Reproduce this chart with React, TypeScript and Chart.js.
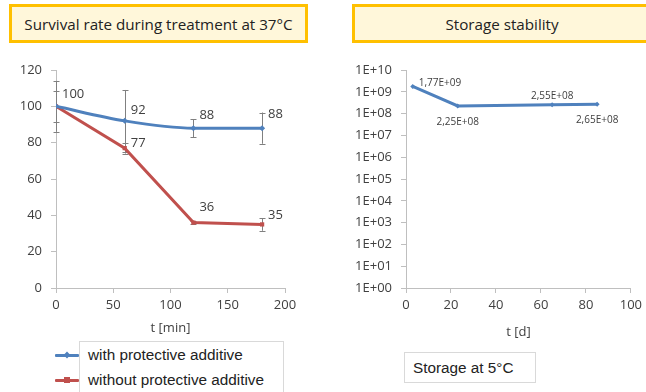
import React, { useEffect, useRef } from "react";
import { Chart, registerables } from "chart.js";

Chart.register(...registerables);

// ---------- data ----------
const timeMin = [0, 60, 120, 180];
const withAdditive = [100, 92, 88, 88];
const withAdditiveErr = [14, 17, 5, 8.6];
const withoutAdditive = [100, 77, 36, 35];
const withoutAdditiveErr = [8.5, 3, 1, 3.5];
const seriesNames = ["with protective additive", "without protective additive"];

const storageDays = [3, 23, 65, 85];
const storageCfu = [1.77e9, 2.25e8, 2.55e8, 2.65e8];
const logTicks = [1, 1e1, 1e2, 1e3, 1e4, 1e5, 1e6, 1e7, 1e8, 1e9, 1e10];

const leftTitle = "Survival rate during treatment at 37°C";
const rightTitle = "Storage stability";
const leftXTitle = "t [min]";
const rightXTitle = "t [d]";
const storageNote = "Storage at 5°C";

// ---------- styles ----------
const BLUE = "#4F81BD";
const RED = "#C0504D";
const AXIS = "#BFBFBF";
const TEXT = "#404040";
const TICK_FONT = { family: "Open Sans", size: 13 };

// label offsets (style only)
const leftLabelDy = [
  [-12, -11, -13, -14],
  [null, -5, -15, -9],
];
const rightLabelPos = ["right", "below", "above", "below"];

function fmtSci2(v: number): string {
  const e = Math.floor(Math.log10(v) + 1e-9);
  const m = v / Math.pow(10, e);
  return m.toFixed(2).replace(".", ",") + "E+" + String(e).padStart(2, "0");
}
function fmtSci0(v: number): string {
  const e = Math.round(Math.log10(v));
  return "1E+" + String(e).padStart(2, "0");
}

const errorBarPlugin = {
  id: "errorBars",
  beforeDatasetsDraw(chart: any) {
    const ctx = chart.ctx;
    const ys = chart.scales.y;
    chart.data.datasets.forEach((ds: any, di: number) => {
      if (!ds.errors) return;
      const meta = chart.getDatasetMeta(di);
      ctx.save();
      ctx.strokeStyle = "#808080";
      ctx.lineWidth = 1;
      meta.data.forEach((pt: any, i: number) => {
        const v = ds.data[i].y;
        const e = ds.errors[i];
        const y1 = ys.getPixelForValue(v + e);
        const y2 = ys.getPixelForValue(v - e);
        const x = Math.round(pt.x) + 0.5;
        ctx.beginPath();
        ctx.moveTo(x, y1);
        ctx.lineTo(x, y2);
        ctx.moveTo(x - 3, Math.round(y1) + 0.5);
        ctx.lineTo(x + 3, Math.round(y1) + 0.5);
        ctx.moveTo(x - 3, Math.round(y2) + 0.5);
        ctx.lineTo(x + 3, Math.round(y2) + 0.5);
        ctx.stroke();
      });
      ctx.restore();
    });
  },
};

const leftLabelPlugin = {
  id: "leftLabels",
  afterDatasetsDraw(chart: any) {
    const ctx = chart.ctx;
    ctx.save();
    ctx.font = "13px 'Open Sans'";
    ctx.fillStyle = TEXT;
    ctx.textAlign = "left";
    ctx.textBaseline = "middle";
    chart.data.datasets.forEach((ds: any, di: number) => {
      const meta = chart.getDatasetMeta(di);
      meta.data.forEach((pt: any, i: number) => {
        const dy = leftLabelDy[di][i];
        if (dy === null) return;
        ctx.fillText(String(Math.round(ds.data[i].y)), pt.x + 6, pt.y + dy);
      });
    });
    ctx.restore();
  },
};

const rightLabelPlugin = {
  id: "rightLabels",
  afterDatasetsDraw(chart: any) {
    const ctx = chart.ctx;
    ctx.save();
    ctx.font = "10px 'Open Sans'";
    ctx.fillStyle = TEXT;
    ctx.textBaseline = "middle";
    const ds = chart.data.datasets[0];
    const meta = chart.getDatasetMeta(0);
    meta.data.forEach((pt: any, i: number) => {
      const txt = fmtSci2(ds.data[i].y);
      const p = rightLabelPos[i];
      if (p === "right") {
        ctx.textAlign = "left";
        ctx.fillText(txt, pt.x + 6, pt.y - 3);
      } else if (p === "below") {
        ctx.textAlign = "center";
        ctx.fillText(txt, pt.x, pt.y + 16);
      } else {
        ctx.textAlign = "center";
        ctx.fillText(txt, pt.x, pt.y - 9);
      }
    });
    ctx.restore();
  },
};

function axisCommon() {
  return {
    border: { display: true, color: AXIS, width: 1 },
    grid: { display: true, drawOnChartArea: false, drawTicks: true, tickLength: 5, color: AXIS },
  };
}

function LeftChart() {
  const ref = useRef<HTMLCanvasElement>(null);
  useEffect(() => {
    const chart = new Chart(ref.current!, {
      type: "line",
      data: {
        datasets: [
          {
            label: seriesNames[0],
            data: timeMin.map((t, i) => ({ x: t, y: withAdditive[i] })),
            errors: withAdditiveErr,
            borderColor: BLUE,
            backgroundColor: BLUE,
            borderWidth: 3,
            tension: 0.4,
            cubicInterpolationMode: "monotone",
            pointStyle: "rectRot",
            pointRadius: 3,
            pointBorderWidth: 0,
          } as any,
          {
            label: seriesNames[1],
            data: timeMin.map((t, i) => ({ x: t, y: withoutAdditive[i] })),
            errors: withoutAdditiveErr,
            borderColor: RED,
            backgroundColor: RED,
            borderWidth: 3,
            tension: 0,
            pointStyle: "rect",
            pointRadius: 3,
            pointBorderWidth: 0,
          } as any,
        ],
      },
      options: {
        animation: false,
        responsive: false,
        maintainAspectRatio: false,
        layout: { padding: { left: 0, right: 35, top: 20, bottom: 0 } },
        plugins: { legend: { display: false }, tooltip: { enabled: false } },
        scales: {
          x: {
            type: "linear",
            min: 0,
            max: 200,
            ...axisCommon(),
            ticks: { stepSize: 50, color: TEXT, font: TICK_FONT, padding: 4, maxRotation: 0 },
            title: { display: true, text: leftXTitle, color: TEXT, font: TICK_FONT, padding: { top: 0, bottom: 4 } },
            afterFit: (s: any) => { s.height = 52; },
          },
          y: {
            type: "linear",
            min: 0,
            max: 120,
            ...axisCommon(),
            ticks: { stepSize: 20, color: TEXT, font: TICK_FONT, padding: 9 },
            afterFit: (s: any) => { s.width = 56; },
          },
        },
      } as any,
      plugins: [errorBarPlugin, leftLabelPlugin],
    });
    return () => chart.destroy();
  }, []);
  return (
    <canvas
      ref={ref}
      width={320}
      height={290}
      style={{ position: "absolute", left: 0, top: 50, width: 320, height: 290 }}
    />
  );
}

function RightChart() {
  const ref = useRef<HTMLCanvasElement>(null);
  useEffect(() => {
    const chart = new Chart(ref.current!, {
      type: "line",
      data: {
        datasets: [
          {
            label: "storage",
            data: storageDays.map((d, i) => ({ x: d, y: storageCfu[i] })),
            borderColor: BLUE,
            backgroundColor: BLUE,
            borderWidth: 3,
            tension: 0,
            pointStyle: "rectRot",
            pointRadius: 2.5,
            pointBorderWidth: 0,
          } as any,
        ],
      },
      options: {
        animation: false,
        responsive: false,
        maintainAspectRatio: false,
        layout: { padding: { left: 0, right: 14, top: 20, bottom: 0 } },
        plugins: { legend: { display: false }, tooltip: { enabled: false } },
        scales: {
          x: {
            type: "linear",
            min: 0,
            max: 100,
            ...axisCommon(),
            ticks: { stepSize: 20, color: TEXT, font: TICK_FONT, padding: 4, maxRotation: 0 },
            title: { display: true, text: rightXTitle, color: TEXT, font: TICK_FONT, padding: { top: 0, bottom: 0 } },
            afterFit: (s: any) => { s.height = 52; },
          },
          y: {
            type: "logarithmic",
            min: 1,
            max: 1e10,
            ...axisCommon(),
            afterBuildTicks: (s: any) => { s.ticks = logTicks.map((v) => ({ value: v })); },
            ticks: { color: TEXT, font: TICK_FONT, padding: 9, autoSkip: false, callback: (v: any) => fmtSci0(Number(v)) },
            afterFit: (s: any) => { s.width = 66; },
          },
        },
      } as any,
      plugins: [rightLabelPlugin],
    });
    return () => chart.destroy();
  }, []);
  return (
    <canvas
      ref={ref}
      width={306}
      height={290}
      style={{ position: "absolute", left: 340, top: 50, width: 306, height: 290 }}
    />
  );
}

const titleBox: React.CSSProperties = {
  position: "absolute",
  top: 4,
  height: 39,
  boxSizing: "border-box",
  border: "3px solid #FFC000",
  background: "#FFF7DA",
  display: "flex",
  alignItems: "center",
  justifyContent: "center",
  fontFamily: "'Open Sans'",
  fontSize: 15.2,
  color: "#222",
};

const legendText: React.CSSProperties = {
  position: "absolute",
  left: 88,
  fontFamily: "'Liberation Sans', Arial",
  fontSize: 15.3,
  color: "#222",
  whiteSpace: "nowrap",
  lineHeight: "18px",
};

function LegendSwatch({ color, top, square }: { color: string; top: number; square: boolean }) {
  return (
    <>
      <div style={{ position: "absolute", left: 55, top: top - 1.5, width: 24, height: 3, background: color, borderRadius: 1 }} />
      <div
        style={{
          position: "absolute",
          left: 64,
          top: top - 3,
          width: 6,
          height: 6,
          background: color,
          transform: square ? "none" : "rotate(45deg) scale(0.8)",
        }}
      />
    </>
  );
}

export default function App() {
  return (
    <div
      style={{
        position: "fixed",
        left: 0,
        top: 0,
        width: 646,
        height: 392,
        background: "#fff",
        overflow: "hidden",
      }}
    >
      <div style={{ ...titleBox, left: 9, width: 299 }}>{leftTitle}</div>
      <div style={{ ...titleBox, left: 352, width: 300 }}>{rightTitle}</div>
      <LeftChart />
      <RightChart />
      <div
        style={{
          position: "absolute",
          left: 79,
          top: 341,
          width: 205,
          height: 70,
          boxSizing: "border-box",
          border: "1px solid #D9D9D9",
        }}
      />
      <LegendSwatch color={BLUE} top={355} square={false} />
      <LegendSwatch color={RED} top={380} square={true} />
      <div style={{ ...legendText, top: 346 }}>{seriesNames[0]}</div>
      <div style={{ ...legendText, top: 371 }}>{seriesNames[1]}</div>
      <div
        style={{
          position: "absolute",
          left: 404,
          top: 352,
          width: 132,
          height: 31,
          boxSizing: "border-box",
          border: "1px solid #D9D9D9",
          fontFamily: "'Liberation Sans', Arial",
          fontSize: 15.3,
          color: "#222",
          paddingLeft: 8,
          display: "flex",
          alignItems: "center",
        }}
      >
        {storageNote}
      </div>
    </div>
  );
}
